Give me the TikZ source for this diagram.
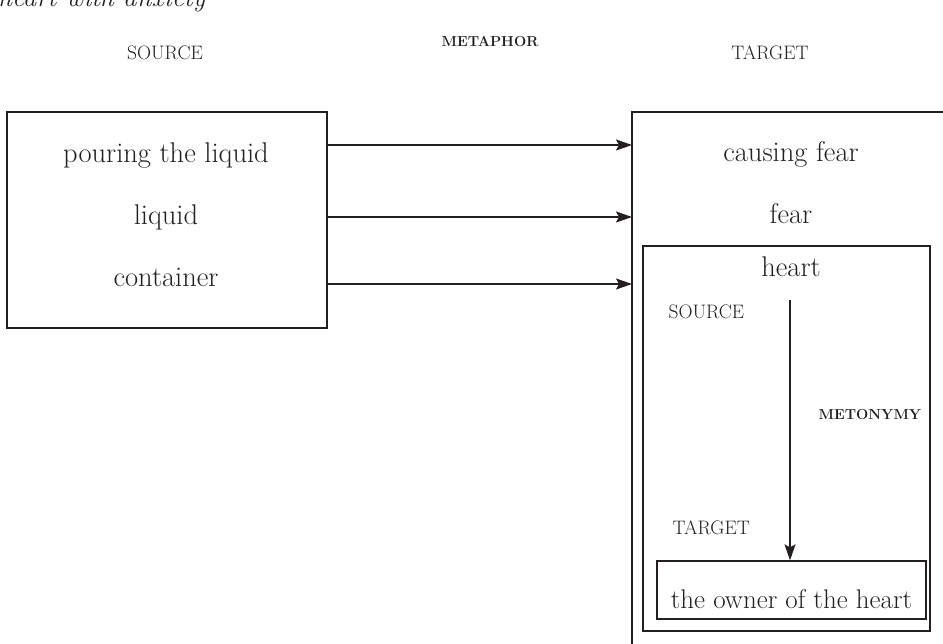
\documentclass[tikz,border=0pt]{standalone}
\usetikzlibrary{arrows.meta}
\definecolor{ink}{HTML}{231F20}
\begin{document}
\begin{tikzpicture}[x=1pt,y=-1pt,
  line width=1.3pt, draw=ink, text=ink,
  frame/.style={draw=ink, line width=1.3pt},
  body/.style={font=\fontsize{28.5}{32}\selectfont, inner sep=0pt, anchor=base},
  lab/.style={font=\fontsize{19.5}{22}\selectfont, inner sep=0pt, anchor=base},
  blab/.style={font=\fontsize{14.5}{18}\selectfont\bfseries, inner sep=0pt, anchor=base},
  arr/.style={-{Stealth[length=16pt,width=11pt,inset=3pt]}, line width=1.3pt, draw=ink}]
\useasboundingbox (0,0) rectangle (943,644);
\clip (0,0) rectangle (943,644);

% caption line running off the top edge
\node[font=\fontsize{27}{30}\selectfont\itshape, inner sep=0pt, anchor=base west] (cap) at (-2,7) {heart with anxiety};

% headings
\node[blab] (metaphor) at (490,47) {METAPHOR};
\node[lab] (srchead) at (165,60) {SOURCE};
\node[lab] (tgthead) at (770,60) {TARGET};

% source domain box
\draw[frame] (7,112) rectangle (327,328);
\coordinate (lboxE) at (327,0);
\node[body] (pour) at (166,163) {pouring the liquid};
\node[body] (liq) at (166,225) {liquid};
\node[body] (cont) at (166,287) {container};

% target domain box (runs past the right and bottom edges)
\draw[frame] (632,112) rectangle (980,700);
\coordinate (rboxW) at (632,0);
\node[body] (cause) at (791,162) {causing fear};
\node[body] (fear) at (791,224) {fear};

% metonymy box
\draw[frame] (643,246) rectangle (930,631);
\node[body] (heart) at (791,277) {heart};
\node[lab, anchor=base west] (msrc) at (668,319) {SOURCE};
\node[blab, anchor=base west] (meto) at (818,420) {METONYMY};
\node[lab, anchor=base west] (mtgt) at (672,534) {TARGET};
\node[draw=ink, line width=1.3pt, minimum width=269pt, minimum height=58pt, inner sep=0pt] (owner) at (791.5,590) {};
\node[body, font=\fontsize{27}{30}\selectfont] (ownertxt) at (791.5,608) {the owner of the heart};
\coordinate (mstart) at (790,300);

% metaphorical mappings
\coordinate (m1) at (0,145);
\coordinate (m2) at (0,217);
\coordinate (m3) at (0,284);
\draw[arr] (lboxE |- m1) -- (rboxW |- m1);
\draw[arr] (lboxE |- m2) -- (rboxW |- m2);
\draw[arr] (lboxE |- m3) -- (rboxW |- m3);

% metonymic mapping
\draw[arr] (mstart) -- (mstart |- owner.north);
\end{tikzpicture}
\end{document}
